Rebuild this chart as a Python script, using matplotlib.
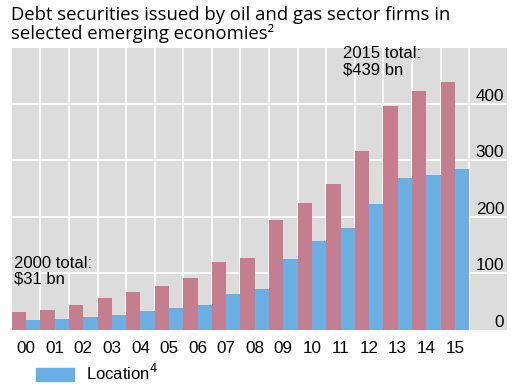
import matplotlib.pyplot as plt
import numpy as np
from matplotlib.patches import Patch

years = ["00", "01", "02", "03", "04", "05", "06", "07",
         "08", "09", "10", "11", "12", "13", "14", "15"]
total = [31, 36, 44, 57, 68, 78, 91, 121, 128, 194, 224, 258, 316, 396, 423, 439]
location = [17, 20, 23, 26, 33, 39, 44, 63, 73, 126, 157, 181, 223, 268, 273, 285]
yticks = [0, 100, 200, 300, 400]

pink = "#C47E8F"
blue = "#6AAEE2"

fig = plt.figure(figsize=(5.27, 3.88), dpi=100)
ax = fig.add_axes([0.0228, 0.1495, 0.9392, 0.7265])
ax.set_facecolor("#DCDCDC")

x = np.arange(len(years))
ax.bar(x - 0.25, total, width=0.5, color=pink, zorder=2)
ax.bar(x + 0.25, location, width=0.5, color=blue, zorder=2)

ax.set_xlim(-0.49, 16.82)
ax.set_ylim(0, 498)

# grid
for xv in x + 0.5:
    ax.axvline(xv, color="white", lw=1.2, zorder=1)
for yv in yticks[1:]:
    ax.axhline(yv, color="white", lw=1.2, zorder=1)

ax.set_xticks(x)
ax.set_xticklabels(years, family="Liberation Sans", fontsize=12.3)
ax.tick_params(axis="x", length=0, pad=8)

ax.yaxis.tick_right()
ax.set_yticks(yticks)
ax.set_yticklabels([str(v) for v in yticks], family="Liberation Sans", fontsize=12.3)
ax.tick_params(axis="y", length=0, pad=-2)
for lbl in ax.get_yticklabels():
    lbl.set_horizontalalignment("right")
    lbl.set_verticalalignment("bottom")

for s in ax.spines.values():
    s.set_visible(False)

ax.text(-0.42, 131, "2000 total:\n$31 bn", family="Liberation Sans", fontsize=12,
        va="top", ha="left", linespacing=1.05, zorder=3)
ax.text(11.1, 501, "2015 total:\n$439 bn", family="Liberation Sans", fontsize=12,
        va="top", ha="left", linespacing=1.05, zorder=3)

fig.text(0.021, 0.985, "Debt securities issued by oil and gas sector firms in\nselected emerging economies\u00b2",
         family="Open Sans", fontsize=13.3, va="top", ha="left", linespacing=1.03)

fig.legend(handles=[Patch(color=blue, label="Location$^4$")], loc="center left",
           bbox_to_anchor=(0.055, 0.039), frameon=False, handlelength=2.3, handleheight=0.8,
           handletextpad=0.7, prop={"family": "Liberation Sans", "size": 12}, borderaxespad=0)

fig.savefig("out.png", dpi=100)
